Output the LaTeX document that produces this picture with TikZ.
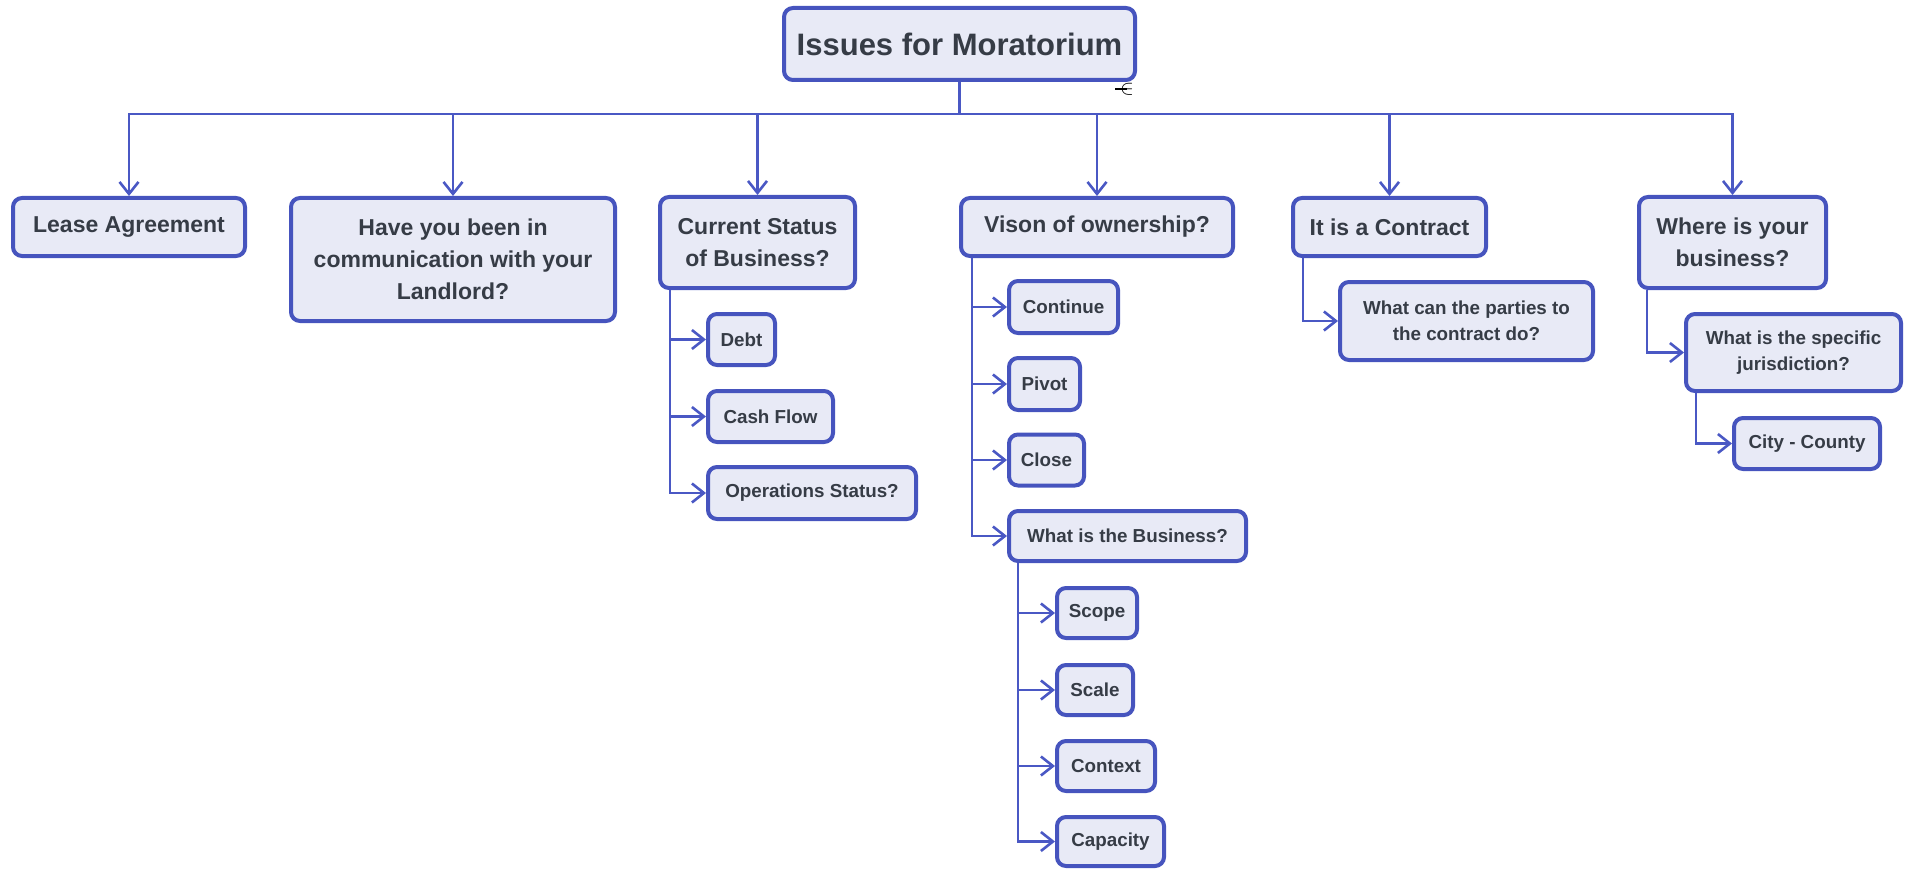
\documentclass[tikz,border=0pt]{standalone}
\usepackage{fontspec}
\setmainfont{Liberation Sans}
\usetikzlibrary{arrows.meta}
\definecolor{bord}{HTML}{4654BE}
\definecolor{fillc}{HTML}{E8EAF6}
\definecolor{txt}{HTML}{363C46}
\definecolor{lnc}{HTML}{4A58C4}
\begin{document}
\begin{tikzpicture}[x=1pt,y=-1pt,
 box/.style={draw=bord, fill=fillc, line width=4pt, rounded corners=9pt, text=txt, align=center, inner sep=0pt},
 big/.style={box, font=\fontsize{31}{36}\selectfont\bfseries},
 mid/.style={box, font=\fontsize{23}{32}\selectfont\bfseries},
 sml/.style={box, font=\fontsize{18.8}{25.7}\selectfont\bfseries},
 wire/.style={draw=lnc, line width=2.6pt},
 conn/.style={wire, -{Straight Barb[length=12pt,width=19pt,line width=2.6pt]}},
]
\useasboundingbox (0,0) rectangle (1905,869);

% root
\node[big, minimum width=351pt, minimum height=72pt] (root) at (959.5,44) {Issues for Moratorium};

% level 1
\node[mid, minimum width=232pt, minimum height=58pt] (lease) at (129,227) {Lease Agreement};
\node[mid, minimum width=324pt, minimum height=123pt] (landlord) at (453,259.5) {Have you been in\\communication with your\\Landlord?};
\node[mid, minimum width=195pt, minimum height=91pt] (status) at (757.5,242.5) {Current Status\\of Business?};
\node[mid, minimum width=272pt, minimum height=58pt] (vison) at (1097,227) {Vison of ownership?};
\node[mid, minimum width=193pt, minimum height=58pt] (contract) at (1389.5,227) {It is a Contract};
\node[mid, minimum width=187pt, minimum height=91pt] (where) at (1732.5,242.5) {Where is your\\business?};

% status children
\node[sml, minimum width=67pt, minimum height=51pt, anchor=west] (debt) at (706,339.5) {Debt};
\node[sml, minimum width=125pt, minimum height=51pt, anchor=west] (cash) at (706,416.5) {Cash Flow};
\node[sml, minimum width=208pt, minimum height=52pt, anchor=west] (ops) at (706,493) {Operations Status?};

% vison children
\node[sml, minimum width=109pt, minimum height=52pt, anchor=west] (cont) at (1007,307) {Continue};
\node[sml, minimum width=71pt, minimum height=52pt, anchor=west] (pivot) at (1007,384) {Pivot};
\node[sml, minimum width=75pt, minimum height=51pt, anchor=west] (close) at (1007,460) {Close};
\node[sml, minimum width=237pt, minimum height=50pt, anchor=west] (busi) at (1007,536) {What is the Business?};

% business children
\node[sml, minimum width=80pt, minimum height=50pt, anchor=west] (scope) at (1055,613) {Scope};
\node[sml, minimum width=76pt, minimum height=50pt, anchor=west] (scale) at (1055,690) {Scale};
\node[sml, minimum width=98pt, minimum height=50pt, anchor=west] (context) at (1055,766) {Context};
\node[sml, minimum width=107pt, minimum height=49pt, anchor=west] (capacity) at (1055,841.5) {Capacity};

% contract child
\node[sml, minimum width=253pt, minimum height=78pt, anchor=west] (parties) at (1338,321) {What can the parties to\\the contract do?};

% where children
\node[sml, minimum width=215pt, minimum height=77pt, anchor=west] (juris) at (1684,352.5) {What is the specific\\jurisdiction?};
\node[sml, minimum width=146pt, minimum height=51pt, anchor=west] (city) at (1732,443.5) {City - County};

% stray cursor glyph
\node[inner sep=0pt, text=black, font=\fontsize{22}{22}\selectfont] (cursor) at (1127,89) {$\in$};
\draw[black, line width=1.8pt] (cursor.center) -- ++(-12,0);

% bus
\coordinate (bus) at (959.5,114);
\draw[wire] (root.south) -- (bus);
\foreach \n in {lease,landlord,status,vison,contract,where}
  \draw[conn] (bus) -| (\n.north);

% sub-branches
\foreach \n in {debt,cash,ops}
  \draw[conn] ([xshift=12pt]status.south west) |- (\n.west);
\foreach \n in {cont,pivot,close,busi}
  \draw[conn] ([xshift=13pt]vison.south west) |- (\n.west);
\foreach \n in {scope,scale,context,capacity}
  \draw[conn] ([xshift=11pt]busi.south west) |- (\n.west);
\draw[conn] ([xshift=12pt]contract.south west) |- (parties.west);
\draw[conn] ([xshift=10pt]where.south west) |- (juris.west);
\draw[conn] ([xshift=12pt]juris.south west) |- (city.west);
\end{tikzpicture}
\end{document}
